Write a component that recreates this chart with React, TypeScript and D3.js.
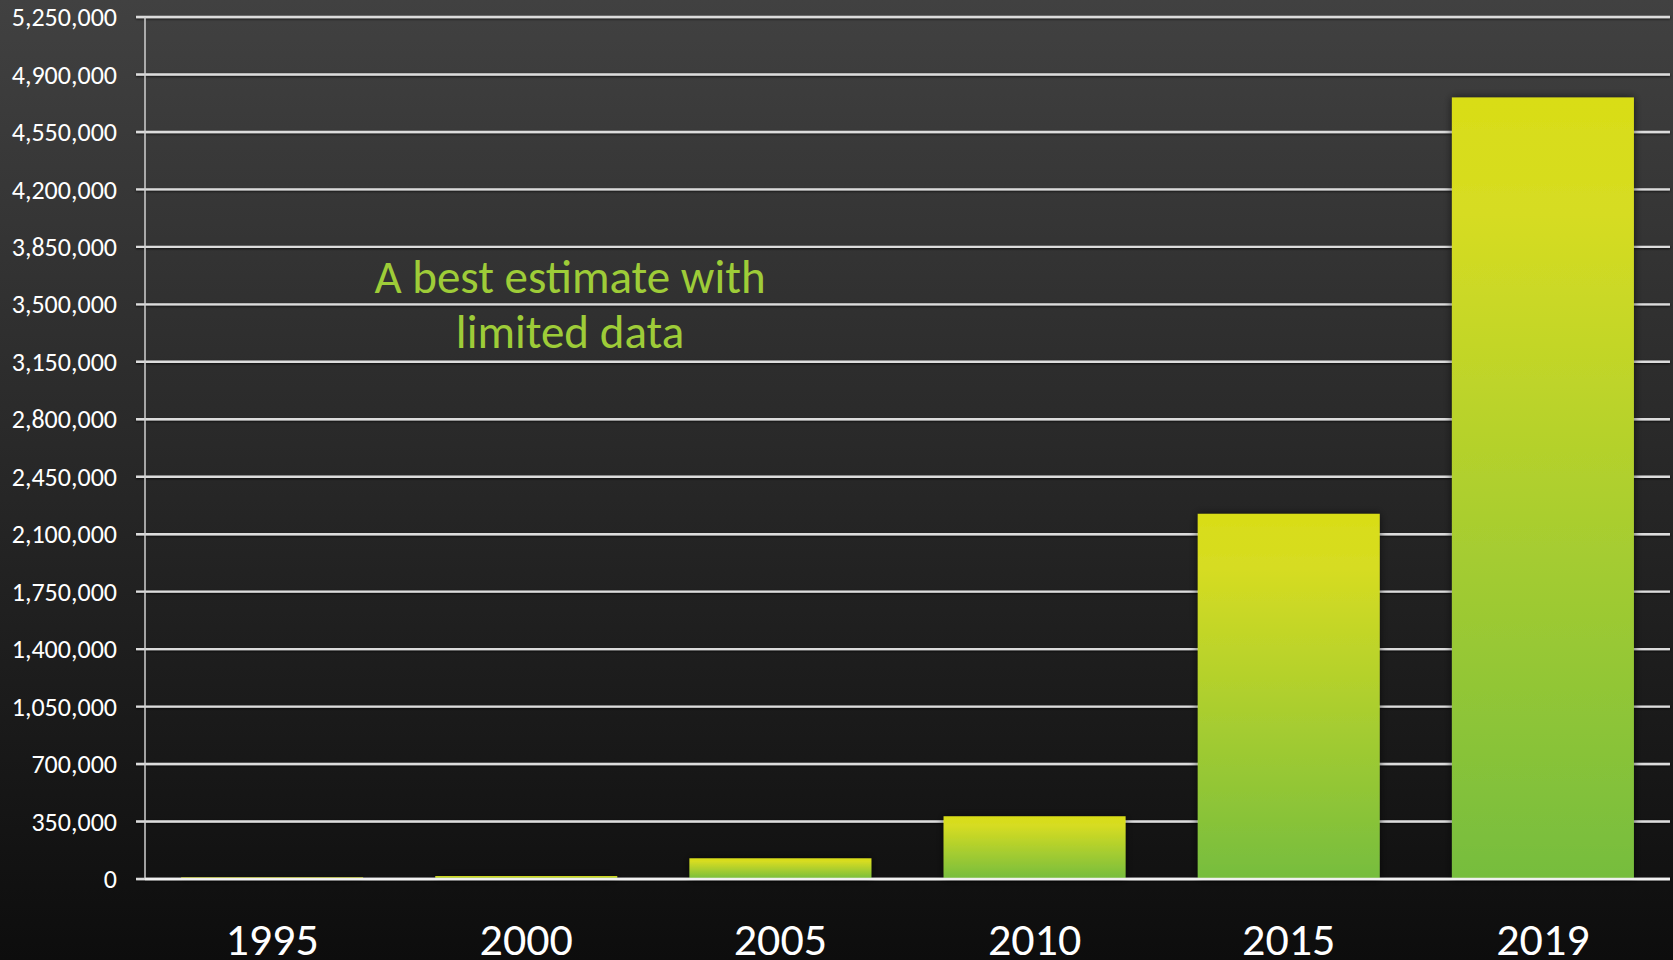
import React, { useEffect } from "react";
import * as d3 from "d3";

const years = ["1995", "2000", "2005", "2010", "2015", "2019"];
const values = [10000, 18000, 126000, 382000, 2224000, 4760000];
const yTicks = d3.range(0, 5250001, 350000);
const noteLines = ["A best estimate with", "limited data"];

const W = 1673;
const H = 960;
const left = 145;
const right = 1670;
const top = 17;
const bottom = 879;
const FONT = "Carlito, Calibri, Lato, 'Open Sans', sans-serif";

export default function App() {
  useEffect(() => {
    document.body.style.margin = "0";
  }, []);

  const x = d3.scaleBand<string>().domain(years).range([left, right]).paddingInner(0.284).paddingOuter(0.142);
  const y = d3.scaleLinear().domain([0, 5250000]).range([bottom, top]);
  const fmt = d3.format(",");

  return (
    <svg width={W} height={H} style={{ display: "block" }}>
      <defs>
        <linearGradient id="bg" x1="0" y1="0" x2="0" y2="1">
          <stop offset="0" stopColor="#414141" />
          <stop offset="1" stopColor="#0d0d0d" />
        </linearGradient>
        <linearGradient id="bar" x1="0" y1="0" x2="0" y2="1">
          <stop offset="0" stopColor="#d9dd17" />
          <stop offset="0.15" stopColor="#d6dc22" />
          <stop offset="1" stopColor="#76bd3e" />
        </linearGradient>
        <filter id="barShadow" x="-10%" y="-10%" width="120%" height="120%">
          <feDropShadow dx="0" dy="0" stdDeviation="4" floodColor="#000" floodOpacity="0.6" />
        </filter>
        <filter id="lineShadow" x="-1%" y="-200%" width="102%" height="500%">
          <feDropShadow dx="0" dy="1" stdDeviation="0.8" floodColor="#000" floodOpacity="0.7" />
        </filter>
      </defs>
      <rect x={0} y={0} width={W} height={H} fill="url(#bg)" />

      <g filter="url(#lineShadow)">
        {yTicks.map((t) => (
          <line key={t} x1={left - 9} x2={right} y1={y(t)} y2={y(t)} stroke="#dcdcdc" strokeWidth={2.4} />
        ))}
      </g>
      <line x1={left} x2={left} y1={top} y2={bottom} stroke="#d0d0d0" strokeWidth={1.5} />

      {yTicks.map((t) => (
        <text
          key={t}
          x={117}
          y={y(t)}
          dy="0.35em"
          textAnchor="end"
          fill="#ffffff"
          fontSize={26}
          fontFamily={FONT}
        >
          {fmt(t)}
        </text>
      ))}

      <g filter="url(#barShadow)">
        {years.map((yr, i) => (
          <rect
            key={yr}
            x={x(yr)}
            y={y(values[i])}
            width={x.bandwidth()}
            height={bottom - y(values[i])}
            fill="url(#bar)"
          />
        ))}
      </g>
      <line x1={left} x2={right} y1={bottom} y2={bottom} stroke="#f0f0f0" strokeWidth={2.4} />

      {years.map((yr) => (
        <text
          key={yr}
          x={(x(yr) as number) + x.bandwidth() / 2}
          y={955}
          textAnchor="middle"
          fill="#ffffff"
          fontSize={46}
          fontFamily={FONT}
        >
          {yr}
        </text>
      ))}

      {noteLines.map((l, i) => (
        <text
          key={l}
          x={570}
          y={293 + i * 55}
          textAnchor="middle"
          fill="#9ecc38"
          fontSize={47}
          fontFamily={FONT}
        >
          {l}
        </text>
      ))}
    </svg>
  );
}
